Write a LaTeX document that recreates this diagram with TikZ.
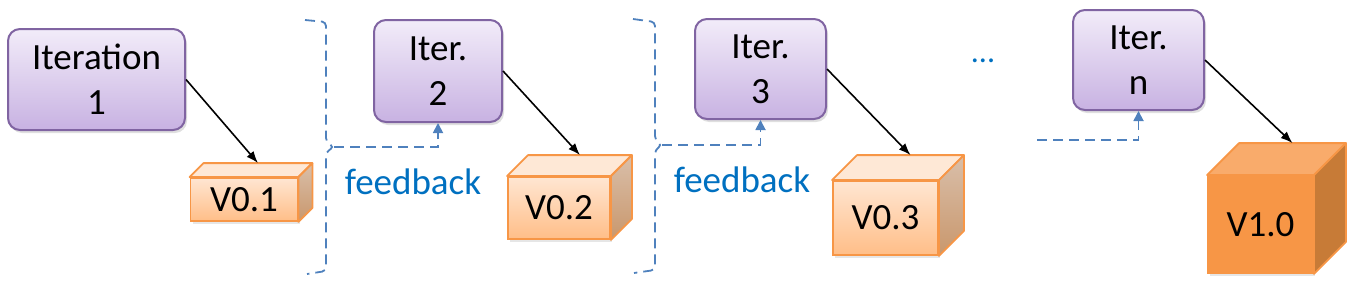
\documentclass[tikz,border=0pt]{standalone}
\usepackage{fontspec}
\setmainfont{Carlito}
\usetikzlibrary{arrows.meta,calc,shadows}

\definecolor{iterline}{HTML}{8064A2}
\definecolor{itertop}{HTML}{F2ECF9}
\definecolor{iterbot}{HTML}{C8B2E2}
\definecolor{cubeline}{HTML}{F79646}
\definecolor{cubefronttop}{HTML}{FFE6D2}
\definecolor{cubefrontbot}{HTML}{FFBE88}
\definecolor{cubelid}{HTML}{FEE8D6}
\definecolor{cubesidetop}{HTML}{D9BFAA}
\definecolor{cubesidebot}{HTML}{C9976C}
\definecolor{finalfront}{HTML}{F79646}
\definecolor{finallid}{HTML}{F9AB6B}
\definecolor{finalside}{HTML}{C77B37}
\definecolor{fbline}{HTML}{4F81BD}
\definecolor{fbtext}{HTML}{0070C0}

\begin{document}
\begin{tikzpicture}[
    x=0.5pt, y=-0.5pt,
    iter/.style={rectangle, rounded corners=6pt, draw=iterline, line width=1pt,
                 top color=itertop, bottom color=iterbot, align=center, inner sep=0pt,
                 font=\fontsize{18.5}{22.5}\selectfont,
                 drop shadow={opacity=0.25, shadow xshift=1pt, shadow yshift=-1.5pt}},
    cubefront/.style={rectangle, draw=cubeline, line width=0.9pt, inner sep=0pt,
                      top color=cubefronttop, bottom color=cubefrontbot,
                      font=\fontsize{18.5}{21}\selectfont,
                      drop shadow={opacity=0.2, shadow xshift=1pt, shadow yshift=-1.5pt}},
    cubelid/.style={draw=cubeline, line width=0.9pt, line join=round, fill=cubelid},
    cubeside/.style={draw=cubeline, line width=0.9pt, line join=round,
                     top color=cubesidetop, bottom color=cubesidebot},
    arrow/.style={-{Latex[length=6pt,width=4.5pt]}, line width=0.8pt, black},
    brace/.style={fbline, line width=0.9pt, dash pattern=on 5pt off 3pt, rounded corners=2pt},
    feedback/.style={fbline, line width=0.9pt, dash pattern=on 5pt off 3pt,
                     -{Triangle[length=5pt,width=5pt]}},
    fblabel/.style={text=fbtext, font=\fontsize{18.5}{21}\selectfont}
]
\useasboundingbox (0,0) rectangle (1352,284);

% iterations
\node[iter, minimum width=88.5pt, minimum height=50.5pt] (it1) at (96.5,79.5) {Iteration\\1};
\node[iter, minimum width=64pt, minimum height=51pt] (it2) at (438,71) {Iter.\\2};
\node[iter, minimum width=65.5pt, minimum height=50pt] (it3) at (760.5,69) {Iter.\\3};
\node[iter, minimum width=65.5pt, minimum height=50pt] (itn) at (1138.5,60) {Iter.\\n};

% versions
\node[cubefront, minimum width=53.5pt, minimum height=21.5pt] (v01) at (244,199.5) {V0.1};
\node[cubefront, minimum width=51pt, minimum height=31pt] (v02) at (559,208) {V0.2};
\node[cubefront, minimum width=52.5pt, minimum height=37pt] (v03) at (885.5,218) {V0.3};
\foreach \c/\dd in {v01/14, v02/21, v03/25} {
    \filldraw[cubelid] (\c.north west) -- ++(\dd,-\dd) -- ($(\c.north east)+(\dd,-\dd)$) -- (\c.north east) -- cycle;
    \draw[cubeside] (\c.north east) -- ++(\dd,-\dd) -- ($(\c.south east)+(\dd,-\dd)$) -- (\c.south east) -- cycle;
    \coordinate (\c-top) at ($(\c.north)+(\dd,-\dd)$);
}
\node[rectangle, draw=cubeline, line width=0.9pt, fill=finalfront, inner sep=0pt,
      minimum width=52.5pt, minimum height=48.5pt, font=\fontsize{18.5}{21}\selectfont,
      drop shadow={opacity=0.2, shadow xshift=1pt, shadow yshift=-1.5pt}] (v10) at (1260.5,224.5) {V1.0};
\filldraw[draw=cubeline, line width=0.9pt, line join=round, fill=finallid]
    (v10.north west) -- ++(32,-32) -- ($(v10.north east)+(32,-32)$) -- (v10.north east) -- cycle;
\filldraw[draw=cubeline, line width=0.9pt, line join=round, fill=finalside]
    (v10.north east) -- ++(32,-32) -- ($(v10.south east)+(32,-32)$) -- (v10.south east) -- cycle;
\coordinate (v10-top) at ($(v10.north)+(32,-32)$);

\draw[arrow] (it1.east) -- (v01-top);
\draw[arrow] (it2.east) -- (v02-top);
\draw[arrow] (it3.east) -- (v03-top);
\draw[arrow] (itn.east) -- (v10-top);

% feedback braces
\coordinate (fb1) at (334,147);
\coordinate (fb2) at (662,145);
\coordinate (fb3) at (1037,140);
\draw[brace] (305,20) -- (326,22) -- (326,142) -- (fb1) -- (326,152) -- (326,271) -- (307,274);
\draw[brace] (633,19) -- (655,22) -- (655,140) -- (fb2) -- (655,150) -- (655,270) -- (634,273);
\draw[feedback] (fb1) -| (it2.south);
\draw[feedback] (fb2) -| (it3.south);
\draw[feedback] (fb3) -| (itn.south);

\node[fblabel] (fbl1) at (413,182) {feedback};
\node[fblabel] (fbl2) at (742,180) {feedback};
\node[fblabel, font=\fontsize{16}{18}\selectfont] (dots) at (983,61) {...};

\end{tikzpicture}
\end{document}
